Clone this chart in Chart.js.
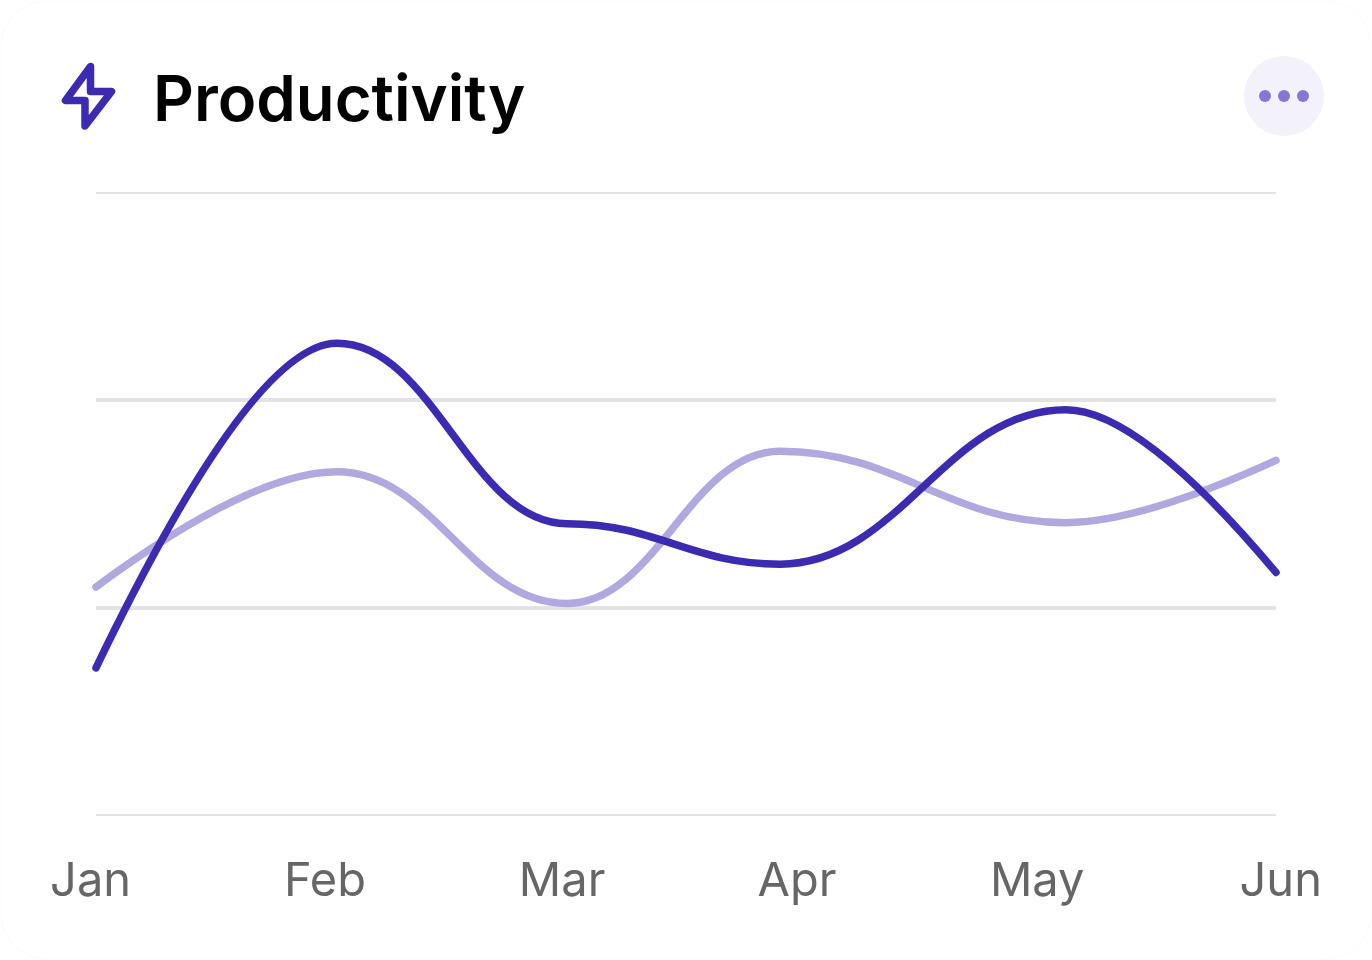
<!DOCTYPE html>
<html>
<head>
<meta charset="utf-8">
<script src="https://cdn.jsdelivr.net/npm/chart.js@4"></script>
<style>
html,body{margin:0;padding:0;background:#fff;width:1372px;height:960px;overflow:hidden}
#card{position:absolute;left:0;top:0;width:1370px;height:958px;border:1px solid #fbfbfd;border-radius:48px;background:#fff}
canvas{position:absolute;left:0;top:0}
#title{position:absolute;left:153px;top:60px;font:600 63.4px/76px Inter,sans-serif;color:#000}
#icon{position:absolute;left:0;top:0}
#btn{position:absolute;left:1244px;top:56px;width:80px;height:80px;border-radius:50%;background:#f3f2fa}
.dot{position:absolute;top:34px;width:12px;height:12px;border-radius:50%;background:#8677d4}
</style>
</head>
<body>
<div id="card"></div>
<canvas id="c" width="1372" height="960"></canvas>
<svg id="icon" width="160" height="160"><path d="M90.5 66.5 L65.5 100.5 H85 V126 L111.5 91.5 H90.5 Z" fill="none" stroke="#3a2bb0" stroke-width="7.5" stroke-linejoin="round"/></svg>
<div id="title">Productivity</div>
<div id="btn"><span class="dot" style="left:15px"></span><span class="dot" style="left:34px"></span><span class="dot" style="left:53px"></span></div>
<script>
const categories = ['Jan','Feb','Mar','Apr','May','Jun'];
const labelPositions = [-0.023, 0.97, 1.975, 2.97, 3.988, 5.02];
const pointPositions = [0, 1.021, 1.996, 2.898, 4.11, 5];
const darkValues = [71, 227.5, 140.5, 121, 195.5, 117];
const lightValues = [110, 165.5, 102, 175.5, 141, 171];
const yTicks = [0, 100, 200, 300];
const toPoints = vals => vals.map((v,i)=>({x:pointPositions[i],y:v}));

// Curve shape: flat handles at inner points; end segments behave like a quadratic.
const handle = 0.42, endReach = 0.35;
const flatHandles = {
  id:'flatHandles',
  beforeDatasetsDraw(chart){
    chart.getSortedVisibleDatasetMetas().forEach(meta=>{
      const line = meta.dataset, pts = meta.data, n = pts.length;
      line.updateControlPoints(chart.chartArea, 'x');
      pts.forEach((p,i)=>{
        if(i>0 && i<n-1){
          p.cp1x = p.x - handle*(p.x-pts[i-1].x); p.cp1y = p.y;
          p.cp2x = p.x + handle*(pts[i+1].x-p.x); p.cp2y = p.y;
        }
      });
      const a=pts[0], b=pts[1], y=pts[n-1], z=pts[n-2];
      const qa = b.x-endReach*(b.x-a.x), qz = z.x+endReach*(y.x-z.x);
      b.cp1x = b.x+(2/3)*(qa-b.x); b.cp1y = b.y;
      a.cp2x = a.x+(2/3)*(qa-a.x); a.cp2y = a.y+(2/3)*(b.y-a.y);
      z.cp2x = z.x+(2/3)*(qz-z.x); z.cp2y = z.y;
      y.cp1x = y.x+(2/3)*(qz-y.x); y.cp1y = y.y+(2/3)*(z.y-y.y);
    });
  }
};

new Chart(document.getElementById('c'), {
  type:'line',
  plugins:[flatHandles],
  data:{datasets:[
    {label:'Dark',data:toPoints(darkValues),borderColor:'#3a2bb0',borderWidth:7.5,tension:0.4,pointRadius:0,borderCapStyle:'round',clip:false,order:1},
    {label:'Light',data:toPoints(lightValues),borderColor:'#b0a9e0',borderWidth:7.5,tension:0.4,pointRadius:0,borderCapStyle:'round',clip:false,order:2}
  ]},
  options:{
    responsive:false,animation:false,
    devicePixelRatio:1,
    layout:{padding:{left:96,right:96,top:193,bottom:0}},
    plugins:{legend:{display:false},tooltip:{enabled:false},title:{display:false}},
    scales:{
      x:{type:'linear',min:0,max:5,
        grid:{display:false},border:{display:false},
        afterBuildTicks:s=>{s.ticks=labelPositions.map(v=>({value:v}));},
        afterFit:s=>{s.height=145;s.paddingLeft=0;s.paddingRight=0;},
        ticks:{autoSkip:false,maxRotation:0,padding:31,color:'#666',font:{family:'Inter',size:47,weight:'400'},
          callback:(v,i)=>categories[i]}},
      y:{min:0,max:300,
        afterBuildTicks:s=>{s.ticks=yTicks.map(v=>({value:v}));},
        afterFit:s=>{s.width=0;},
        grid:{color:'#e3e3e5',lineWidth:c=>(c.index===0||c.index===3)?2:4,drawTicks:false},border:{display:false},
        ticks:{display:false}}
    }
  }
});
</script>
</body>
</html>
